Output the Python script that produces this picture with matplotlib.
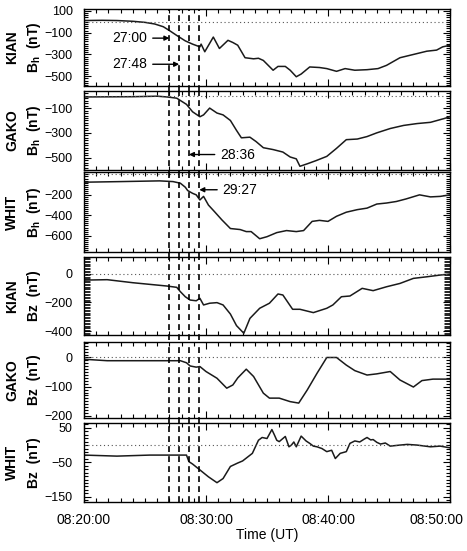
import numpy as np
import matplotlib
matplotlib.use('Agg')
import matplotlib.pyplot as plt
import matplotlib.transforms as mtrans
from matplotlib.ticker import FixedLocator, MultipleLocator

plt.rcParams['font.family'] = ['Liberation Sans', 'DejaVu Sans']
plt.rcParams['mathtext.fontset'] = 'custom'
plt.rcParams['mathtext.bf'] = 'Liberation Sans:bold'
plt.rcParams['mathtext.rm'] = 'Liberation Sans'

# minutes after 08:20:00 UT
kian_bh_t = [0, 1.5, 2.7, 4.0, 5.0, 5.8, 6.5, 7.0, 7.6, 8.3, 8.9, 9.5, 9.6, 9.9, 10.6, 11.1, 11.8,
             12.2, 12.6, 13.2, 13.9, 14.3, 14.7, 15.5, 15.9, 16.5, 16.9, 17.4, 17.8, 18.5, 19.3,
             19.9, 20.7, 21.4, 22.2, 23.2, 24.1, 24.8, 25.9, 27.0, 28.1, 28.9, 29.4, 30.0]
kian_bh = [12, 14, 12, 5, -5, -20, -45, -80, -125, -175, -205, -230, -205, -275, -140, -245, -170,
           -190, -215, -330, -340, -335, -355, -445, -410, -410, -445, -505, -480, -415, -420,
           -430, -455, -430, -445, -440, -430, -400, -330, -300, -270, -260, -230, -215]

gako_bh_t = [0, 4.0, 6.0, 6.8, 7.6, 8.0, 8.4, 8.9, 9.5, 9.8, 10.3, 10.9, 11.4, 12.0, 12.5, 12.9,
             13.6, 14.1, 14.7, 15.5, 16.3, 16.9, 17.4, 17.7, 18.3, 19.0, 19.9, 20.7, 21.5, 22.4,
             23.2, 24.0, 25.1, 26.2, 27.3, 28.4, 29.5, 30.0]
gako_bh = [-10, -8, -4, -10, -20, -45, -70, -130, -170, -155, -100, -140, -155, -200, -280, -340,
           -335, -370, -420, -435, -455, -495, -510, -570, -550, -525, -490, -425, -355, -350,
           -330, -300, -265, -240, -225, -215, -185, -170]

whit_bh_t = [0, 3, 6.2, 7.3, 7.9, 8.3, 8.5, 8.9, 9.2, 9.5, 9.8, 10.2, 10.7, 11.3, 12.0, 12.8, 13.3,
             13.7, 14.4, 15.0, 15.8, 16.6, 17.4, 18.0, 18.7, 19.3, 20.0, 20.7, 21.5, 22.4, 23.2,
             24.0, 24.8, 25.6, 26.4, 27.5, 28.4, 29.2, 30.0]
whit_bh = [-76, -70, -63, -70, -86, -125, -158, -185, -200, -250, -215, -300, -365, -445, -530,
           -540, -560, -560, -630, -610, -570, -550, -560, -550, -460, -450, -460, -410, -370,
           -345, -330, -290, -280, -265, -240, -200, -220, -215, -200]

kian_bz_t = [0, 1.9, 4.0, 6.8, 7.6, 7.9, 8.3, 8.7, 9.2, 9.5, 9.8, 10.3, 10.9, 11.4, 12.0, 12.5,
             13.1, 13.6, 14.4, 15.2, 15.9, 16.3, 17.1, 17.7, 18.8, 19.9, 20.4, 21.1, 21.8, 22.8,
             23.7, 24.8, 25.9, 27.0, 28.1, 29.2, 30.0]
kian_bz = [-45, -42, -63, -86, -95, -125, -160, -183, -188, -171, -217, -205, -201, -217, -280,
           -360, -413, -310, -240, -205, -141, -148, -247, -247, -270, -240, -217, -160, -155,
           -102, -118, -91, -68, -33, -22, -10, -3]

gako_bz_t = [0, 1.9, 6.8, 7.9, 8.4, 8.7, 9.2, 9.5, 10.0, 10.9, 11.7, 12.2, 12.6, 13.3, 13.9, 14.7,
             15.2, 16.0, 16.9, 17.6, 18.3, 19.1, 19.9, 20.7, 21.5, 22.2, 23.2, 24.0, 25.1, 25.9,
             27.0, 27.7, 28.6, 30.0]
gako_bz = [-6, -11, -11, -11, -18, -29, -33, -31, -48, -71, -105, -94, -70, -40, -65, -122,
           -139, -139, -151, -156, -111, -54, 0, 0, -26, -45, -60, -56, -48, -77,
           -101, -79, -74, -74]

whit_bz_t = [0, 2.7, 5.4, 8.4, 8.6, 8.9, 9.5, 10.2, 10.9, 11.4, 12.0, 12.6, 13.0, 13.8, 14.3, 14.6,
             15.0, 15.4, 15.6, 15.8, 16.0, 16.3, 16.5, 16.8, 17.0, 17.2, 17.4, 17.8, 18.2, 18.5,
             18.8, 19.1, 19.5, 19.9, 20.3, 20.6, 21.0, 21.5, 21.8, 22.2, 22.6, 23.0, 23.2, 23.5,
             23.7, 24.0, 24.3, 24.7, 25.1, 25.9, 26.5, 27.3, 28.4, 29.2, 30.0]
whit_bz = [-29, -32, -29, -29, -48, -55, -72, -92, -109, -97, -62, -52, -46, -24, 14, 22,
           19, 45, 30, 14, 10, 19, 25, -5, 0, 9, -5, 26, 12, 5,
           -3, -5, -10, -19, -15, -39, -24, -19, 5, 12, 9, 18, 22, 15,
           16, 8, 3, 6, -3, 0, 2, 0, -5, -3, -8]

series = [(kian_bh_t, kian_bh), (gako_bh_t, gako_bh), (whit_bh_t, whit_bh),
          (kian_bz_t, kian_bz), (gako_bz_t, gako_bz), (whit_bz_t, whit_bz)]
stations = ['KIAN', 'GAKO', 'WHIT', 'KIAN', 'GAKO', 'WHIT']
components = ['B$_\\mathbf{h}$  (nT)'] * 3 + ['Bz  (nT)'] * 3
yticks = [[100, -100, -300, -500], [-100, -300, -500], [-200, -400, -600],
          [0, -200, -400], [0, -100, -200], [50, -50, -150]]
ylims = [(-590, 118), (-600, 38), (-760, 24), (-425, 115), (-207, 53), (-165, 64)]
yminor = [20, 20, 20, 10, 10, 10]

onset_t = [7.0, 7.8, 8.6, 9.45]
time_ticks = [0, 10, 20, 30]
time_labels = ['08:20:00', '08:30:00', '08:40:00', '08:50:00']

# panel boxes in pixels (top, bottom)
boxes = [(9, 86), (91, 170), (172, 252), (257, 335), (342, 418), (423, 502)]
W, H = 467, 551
left, right = 84, 450

fig = plt.figure(figsize=(W / 100, H / 100), dpi=100)
axes = []
for i in range(6):
    top, bot = boxes[i]
    ax = fig.add_axes([left / W, 1 - bot / H, (right - left) / W, (bot - top) / H])
    axes.append(ax)
    t, v = series[i]
    ax.plot(t, v, color='#1a1a1a', lw=1.1)
    ax.axhline(0, color='#555555', lw=0.8, ls=(0, (1, 2.5)))
    for ot in onset_t:
        ax.axvline(ot, ymin=0 if i == 5 else -0.07, ymax=1, color='black', lw=1.2,
                   ls=(0, (3.5, 2.5)), clip_on=False)
    ax.set_xlim(0, 30)
    ax.set_ylim(*ylims[i])
    ax.yaxis.set_major_locator(FixedLocator(yticks[i]))
    ax.yaxis.set_minor_locator(MultipleLocator(yminor[i]))
    ax.xaxis.set_major_locator(FixedLocator(time_ticks))
    ax.xaxis.set_minor_locator(MultipleLocator(1))
    ax.tick_params(which='both', direction='in', top=True, right=True, width=0.8)
    ax.tick_params(which='major', length=5)
    ax.tick_params(which='minor', length=3)
    if i == 3:
        ax.tick_params(axis='y', which='minor', width=0.6, length=4)
    ax.tick_params(axis='y', labelsize=9, pad=8)
    ax.tick_params(axis='x', labelsize=10, pad=8)
    for s in ax.spines.values():
        s.set_linewidth(1.0)
    if i < 5:
        ax.set_xticklabels([])
    else:
        ax.set_xticklabels(time_labels)
    cy = 1 - (top + bot) / 2 / H
    fig.text(12 / W, cy, stations[i], rotation=90, ha='center', va='center',
             fontsize=10, fontweight='bold')
    fig.text(34 / W, cy, components[i], rotation=90, ha='center', va='center',
             fontsize=10, fontweight='bold')

# keep the last time label inside the picture
last = axes[5].get_xticklabels()[-1]
last.set_transform(last.get_transform() + mtrans.ScaledTranslation(-13 / 100, 0, fig.dpi_scale_trans))

arrow = dict(arrowstyle='-|>', color='black', lw=1.0, mutation_scale=7, shrinkA=2, shrinkB=0)
axes[0].annotate('27:00', xy=(7.0, -150), xytext=(3.75, -150), ha='center', va='center',
                 fontsize=10, arrowprops=arrow)
axes[0].annotate('27:48', xy=(7.8, -390), xytext=(3.75, -390), ha='center', va='center',
                 fontsize=10, arrowprops=arrow)
axes[1].annotate('28:36', xy=(8.6, -475), xytext=(12.6, -475), ha='center', va='center',
                 fontsize=10, arrowprops=arrow)
axes[2].annotate('29:27', xy=(9.45, -150), xytext=(12.8, -150), ha='center', va='center',
                 fontsize=10, arrowprops=arrow)

fig.text(267 / W, 1 - 535 / H, 'Time (UT)', ha='center', va='center', fontsize=10)

fig.savefig('out.png', dpi=100)
